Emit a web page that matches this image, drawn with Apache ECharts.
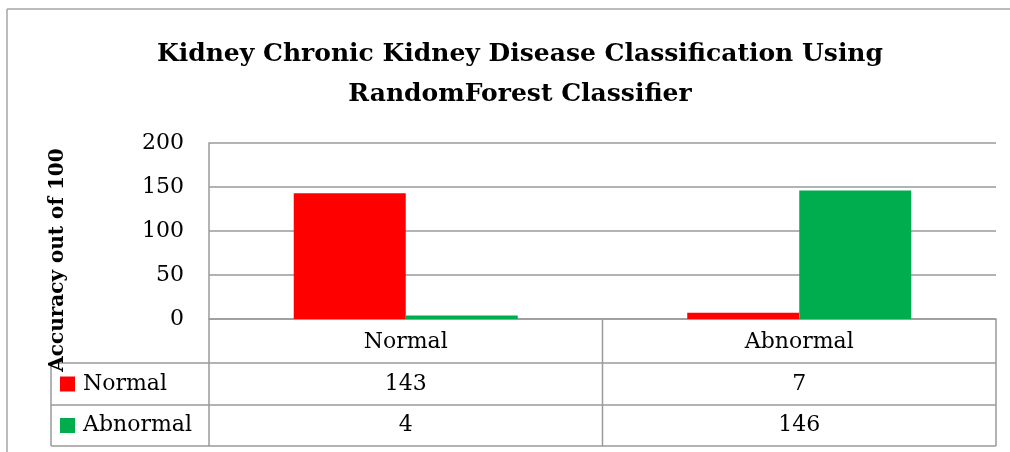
<!DOCTYPE html>
<html>
<head>
<meta charset="utf-8">
<script src="https://cdn.jsdelivr.net/npm/echarts@6/dist/echarts.min.js"></script>
<style>
  html, body { margin: 0; padding: 0; background: #fff; }
  #chart { width: 1010px; height: 452px; }
</style>
</head>
<body>
<div id="chart"></div>
<script>
// data
var categories = ["Normal", "Abnormal"];
var seriesNames = ["Normal", "Abnormal"];
var normalValues = [143, 7];
var abnormalValues = [4, 146];
var yTicks = [0, 50, 100, 150, 200];
var colors = ["#ff0000", "#00ad4e"];

var FONT = "DejaVu Serif";
var lineColor = "#9a9a9a";

// layout
var plotLeft = 209, plotRight = 996, plotTop = 143, zeroY = 319;
var rows = [319, 363, 405, 446];
var tableLeft = 51;

var chart = echarts.init(document.getElementById("chart"));

var option = {
  animation: false,
  title: {
    text: "Kidney Chronic Kidney Disease Classification Using\nRandomForest Classifier",
    left: 515,
    textAlign: "center",
    top: 29,
    textStyle: {
      fontFamily: FONT,
      fontWeight: "bold",
      fontSize: 25,
      lineHeight: 40,
      color: "#000",
    },
  },
  grid: {
    left: plotLeft,
    right: 1010 - plotRight,
    top: plotTop,
    bottom: 452 - zeroY,
  },
  xAxis: {
    type: "category",
    data: categories,
    axisTick: { show: false },
    axisLine: { lineStyle: { color: lineColor, width: 1.5 } },
    axisLabel: {
      fontFamily: FONT,
      fontSize: 22,
      color: "#000",
      verticalAlign: "middle",
      margin: (rows[1] - rows[0]) / 2 + 1,
    },
  },
  yAxis: {
    type: "value",
    min: yTicks[0],
    max: yTicks[yTicks.length - 1],
    interval: yTicks[1] - yTicks[0],
    axisLine: { show: true, lineStyle: { color: lineColor, width: 1.5 } },
    axisTick: { show: false },
    splitLine: { lineStyle: { color: lineColor, width: 1.5 } },
    axisLabel: {
      fontFamily: FONT,
      fontSize: 22,
      color: "#000",
      margin: 25,
    },
  },
  series: [
    {
      name: seriesNames[0],
      type: "bar",
      data: normalValues,
      barWidth: 112,
      barGap: "0%",
      itemStyle: { color: colors[0] },
    },
    {
      name: seriesNames[1],
      type: "bar",
      data: abnormalValues,
      barWidth: 112,
      barGap: "0%",
      itemStyle: { color: colors[1] },
    },
  ],
};
chart.setOption(option);

// data table under the plot
var graphics = [];
var ls = { stroke: lineColor, lineWidth: 1.5 };
var border = { stroke: "#a6a6a6", lineWidth: 1.5 };
// outer chart border (only left and top are in view)
graphics.push({ type: "line", shape: { x1: 7, y1: 9, x2: 1010, y2: 9 }, style: border });
graphics.push({ type: "line", shape: { x1: 7, y1: 9, x2: 7, y2: 452 }, style: border });
// horizontal lines
for (var r = 1; r < rows.length; r++) {
  graphics.push({ type: "line", shape: { x1: tableLeft, y1: rows[r], x2: plotRight, y2: rows[r] }, style: ls });
}
// vertical lines
graphics.push({ type: "line", shape: { x1: tableLeft, y1: rows[1], x2: tableLeft, y2: rows[3] }, style: ls });
graphics.push({ type: "line", shape: { x1: plotLeft, y1: zeroY, x2: plotLeft, y2: rows[3] }, style: ls });
graphics.push({ type: "line", shape: { x1: plotRight, y1: zeroY, x2: plotRight, y2: rows[3] }, style: ls });
var midX = (plotLeft + plotRight) / 2;
graphics.push({ type: "line", shape: { x1: midX, y1: zeroY, x2: midX, y2: rows[3] }, style: ls });

var tableValues = [normalValues, abnormalValues];
for (var s = 0; s < seriesNames.length; s++) {
  var cy = (rows[s + 1] + rows[s + 2]) / 2;
  graphics.push({ type: "rect", shape: { x: 60, y: cy - 7.5, width: 15, height: 15 }, style: { fill: colors[s] } });
  graphics.push({ type: "text", x: 83, y: cy,
    style: { text: seriesNames[s], fontFamily: FONT, fontSize: 22, fill: "#000", verticalAlign: "middle" } });
  for (var c = 0; c < categories.length; c++) {
    var cx = chart.convertToPixel({ xAxisIndex: 0 }, categories[c]);
    graphics.push({ type: "text", x: cx, y: cy,
      style: { text: String(tableValues[s][c]), fontFamily: FONT, fontSize: 22, fill: "#000",
        align: "center", verticalAlign: "middle" } });
  }
}
// axis title
graphics.push({ type: "text", x: 58, y: 260, rotation: Math.PI / 2,
  style: { text: "Accuracy out of 100", fontFamily: FONT, fontWeight: "bold", fontSize: 20, fill: "#000",
    align: "center", verticalAlign: "middle" } });

chart.setOption({ graphic: graphics });
</script>
</body>
</html>
